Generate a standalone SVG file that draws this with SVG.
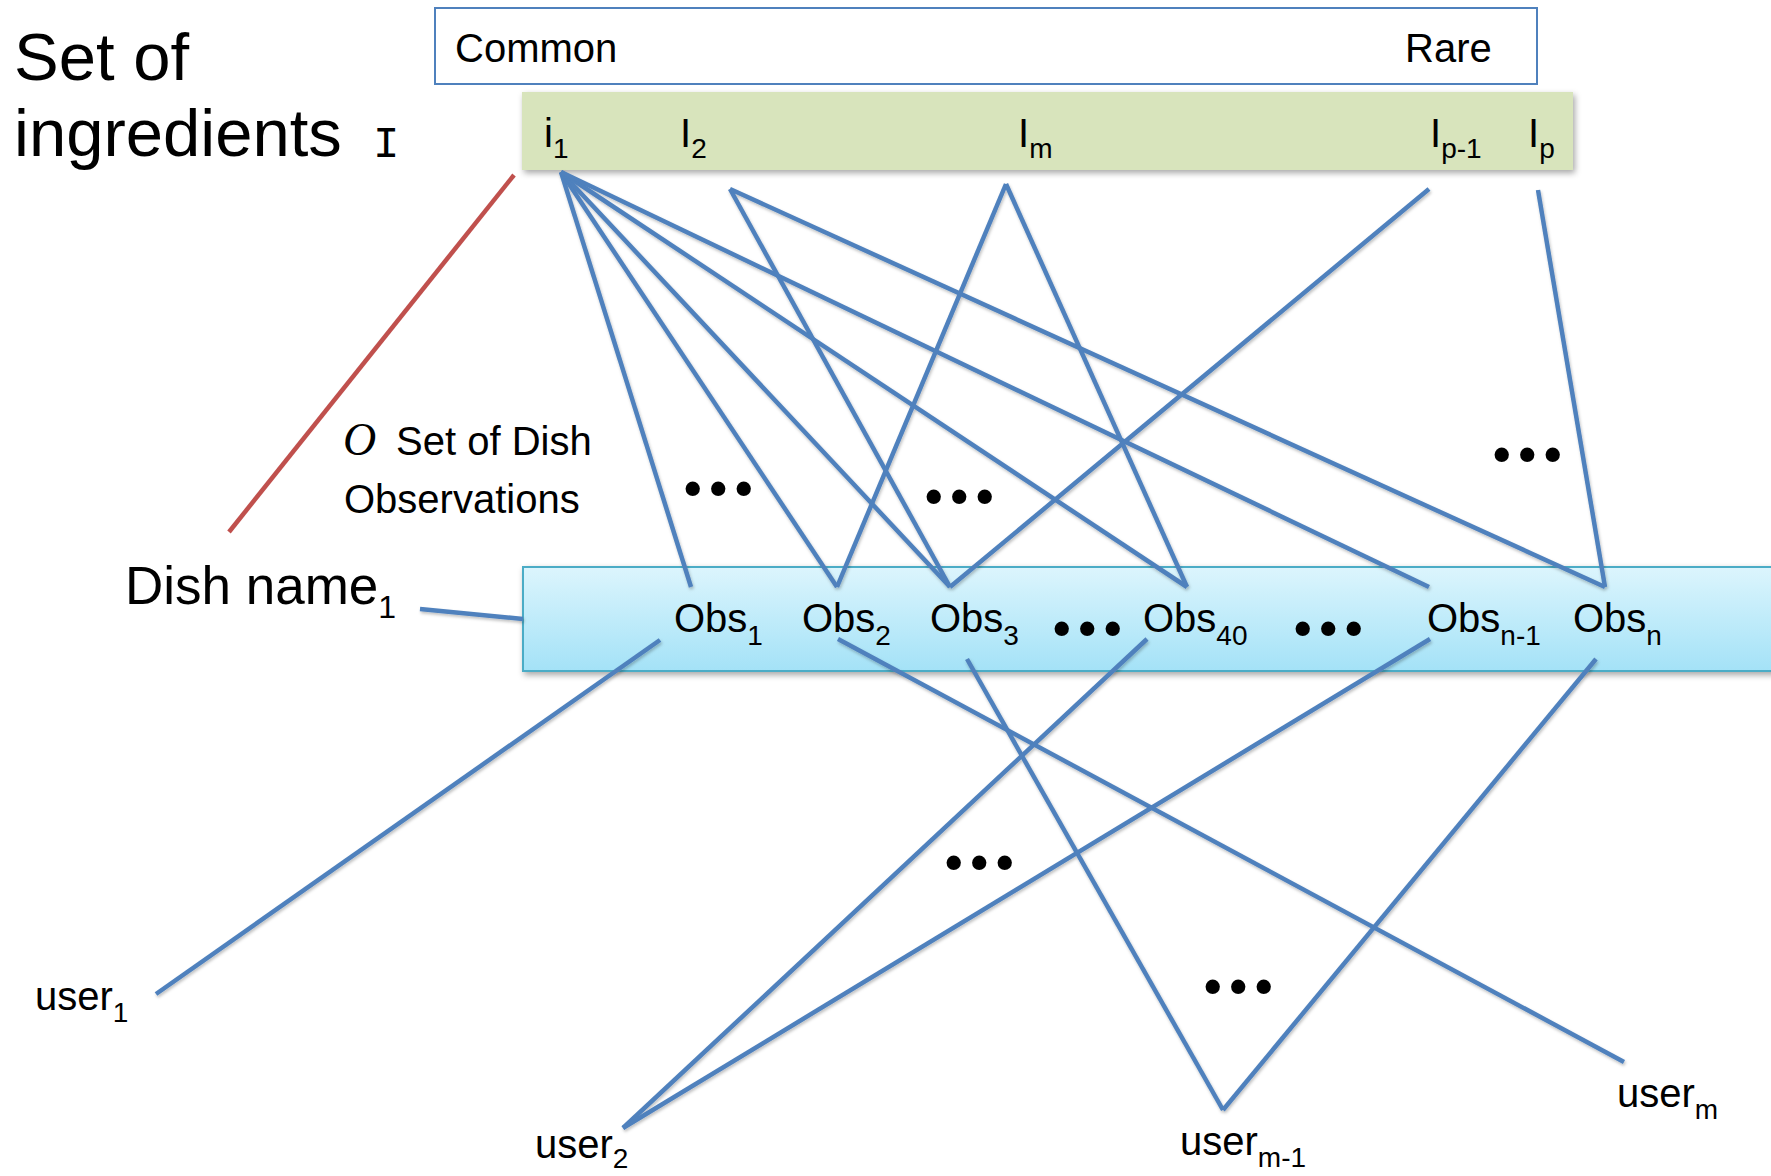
<svg xmlns="http://www.w3.org/2000/svg" width="1771" height="1176" viewBox="0 0 1771 1176">
<defs>
<linearGradient id="obsGrad" x1="0" y1="0" x2="0" y2="1">
<stop offset="0" stop-color="#dcf5fd"/>
<stop offset="1" stop-color="#a4e2f7"/>
</linearGradient>
<filter id="shadow" x="-5%" y="-20%" width="110%" height="160%">
<feDropShadow dx="2" dy="3" stdDeviation="3" flood-color="#000" flood-opacity="0.35"/>
</filter>
<filter id="lshadow" x="-5%" y="-5%" width="110%" height="110%">
<feDropShadow dx="1" dy="2" stdDeviation="1.5" flood-color="#000" flood-opacity="0.25"/>
</filter>
</defs>
<style>
text{font-family:"Liberation Sans",Arial,sans-serif;fill:#000}
.lbl{font-size:40px}
.sub{font-size:28px}
.comic{font-size:67px}
.dots{font-size:50px;font-weight:bold;letter-spacing:8px}
.edge{stroke:#4f81bd;stroke-width:4.5;fill:none;stroke-linecap:butt}
.red{stroke:#c0504d;stroke-width:4.5;fill:none}
</style>
<rect width="1771" height="1176" fill="#fff"/>

<g id="title">
<text class="comic" x="14" y="80">Set of</text>
<text class="comic" x="14" y="156">ingredients</text>
<text x="373" y="157" style="font-family:'Liberation Mono',monospace;font-size:44px">I</text>
</g>

<g id="frequency-box">
<rect x="435" y="8" width="1102" height="76" fill="#fff" stroke="#4f81bd" stroke-width="2"/>
<text class="lbl" x="455" y="62">Common</text>
<text class="lbl" x="1405" y="62">Rare</text>
</g>

<g id="ingredients-bar">
<rect x="522" y="92" width="1051" height="78" fill="#d8e4bc" filter="url(#shadow)"/>
<text class="lbl" x="544" y="147">i<tspan class="sub" dy="11">1</tspan></text>
<text class="lbl" x="680" y="147">I<tspan class="sub" dy="11">2</tspan></text>
<text class="lbl" x="1018" y="147">I<tspan class="sub" dy="11">m</tspan></text>
<text class="lbl" x="1430" y="147">I<tspan class="sub" dy="11">p-1</tspan></text>
<text class="lbl" x="1528" y="147">I<tspan class="sub" dy="11">p</tspan></text>
</g>

<g id="observations-bar">
<rect x="523" y="567" width="1270" height="104" fill="url(#obsGrad)" stroke="#4bacc6" stroke-width="2" filter="url(#shadow)"/>
</g>

<g id="connectors">
<line class="red" x1="514" y1="175" x2="229" y2="532"/>
<g class="edges" filter="url(#lshadow)">
<line class="edge" x1="420" y1="609" x2="523" y2="619"/>
<line class="edge" x1="561" y1="172" x2="691" y2="587"/>
<line class="edge" x1="561" y1="172" x2="837" y2="587"/>
<line class="edge" x1="561" y1="172" x2="950" y2="587"/>
<line class="edge" x1="561" y1="172" x2="1187" y2="587"/>
<line class="edge" x1="561" y1="172" x2="1429" y2="587"/>
<line class="edge" x1="730" y1="189" x2="950" y2="587"/>
<line class="edge" x1="730" y1="189" x2="1605" y2="587"/>
<line class="edge" x1="1006" y1="184" x2="837" y2="587"/>
<line class="edge" x1="1006" y1="184" x2="1187" y2="587"/>
<line class="edge" x1="1429" y1="189" x2="950" y2="587"/>
<line class="edge" x1="1538" y1="190" x2="1605" y2="587"/>
<line class="edge" x1="660" y1="640" x2="156" y2="994"/>
<line class="edge" x1="838" y1="639" x2="1624" y2="1062"/>
<line class="edge" x1="967" y1="659" x2="1223" y2="1110"/>
<line class="edge" x1="1147" y1="639" x2="623" y2="1128"/>
<line class="edge" x1="1430" y1="639" x2="623" y2="1128"/>
<line class="edge" x1="1596" y1="659" x2="1223" y2="1110"/>
</g>
</g>

<g id="observation-labels">
<text class="lbl" x="674" y="632">Obs<tspan class="sub" dy="13">1</tspan></text>
<text class="lbl" x="802" y="632">Obs<tspan class="sub" dy="13">2</tspan></text>
<text class="lbl" x="930" y="632">Obs<tspan class="sub" dy="13">3</tspan></text>
<text class="lbl" x="1143" y="632">Obs<tspan class="sub" dy="13">40</tspan></text>
<text class="lbl" x="1427" y="632">Obs<tspan class="sub" dy="13">n-1</tspan></text>
<text class="lbl" x="1573" y="632">Obs<tspan class="sub" dy="13">n</tspan></text>
</g>

<g id="dish-name">
<text x="125" y="604" style="font-size:53px">Dish name<tspan dy="14" style="font-size:32px">1</tspan></text>
</g>

<g id="observation-set-label">
<text x="343" y="455" style="font-family:'Liberation Serif',serif;font-style:italic;font-size:46px">O</text>
<text class="lbl" x="396" y="455">Set of Dish</text>
<text class="lbl" x="344" y="513">Observations</text>
</g>

<g id="users">
<text class="lbl" x="35" y="1010">user<tspan class="sub" dy="12">1</tspan></text>
<text class="lbl" x="535" y="1158">user<tspan class="sub" dy="10">2</tspan></text>
<text class="lbl" x="1180" y="1155">user<tspan class="sub" dy="12">m-1</tspan></text>
<text class="lbl" x="1617" y="1107">user<tspan class="sub" dy="12">m</tspan></text>
</g>

<g id="ellipses">
<text class="dots" x="684" y="505">•••</text>
<text class="dots" x="925" y="513">•••</text>
<text class="dots" x="1493" y="471">•••</text>
<text class="dots" x="1053" y="645">•••</text>
<text class="dots" x="1294" y="645">•••</text>
<text class="dots" x="945" y="879">•••</text>
<text class="dots" x="1204" y="1003">•••</text>
</g>
</svg>
